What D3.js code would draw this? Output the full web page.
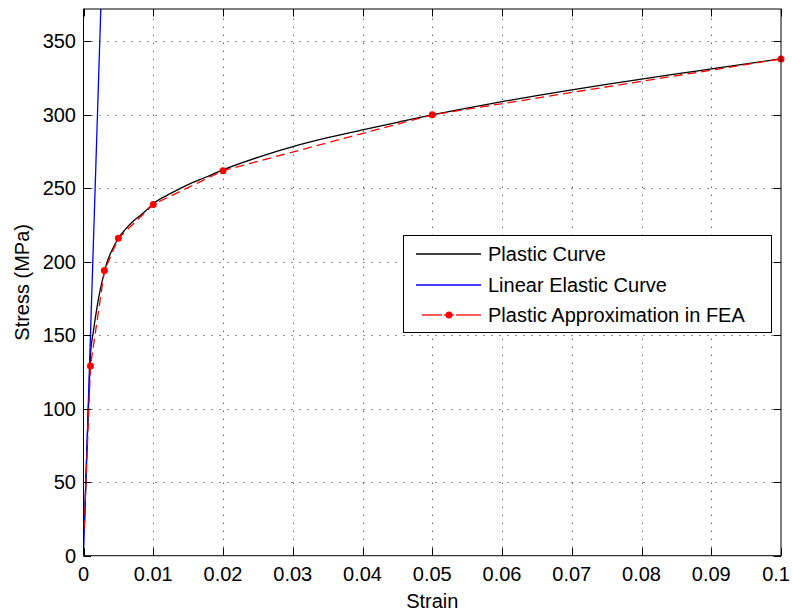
<!DOCTYPE html>
<html><head><meta charset="utf-8">
<script src="https://cdn.jsdelivr.net/npm/d3@7"></script>
<style>body{margin:0;background:#fff}svg{display:block}text{font-family:"Liberation Sans",Arial,sans-serif;font-size:20px;fill:#000}</style>
</head><body>
<script>
// Data
const xTicks = [0,0.01,0.02,0.03,0.04,0.05,0.06,0.07,0.08,0.09,0.1];
const xTickLabels = ["0","0.01","0.02","0.03","0.04","0.05","0.06","0.07","0.08","0.09","0.1"];
const yTicks = [0,50,100,150,200,250,300,350];
const yTickLabels = ["0","50","100","150","200","250","300","350"];

const plasticStrain = [0.0001,0.0003,0.0005,0.0007,0.0009,0.001,0.0014,0.0019,0.0024,0.003,0.0034,0.004,0.005,0.006,0.007,0.008,0.009,0.01,0.0125,0.015,0.0175,0.02,0.025,0.03,0.035,0.04,0.045,0.05,0.055,0.06,0.065,0.07,0.075,0.08,0.085,0.09,0.095,0.1];
const plasticStress = [18,45,73,100,125,137,152,168,181,193,200,207,216,222,227,231,235,239.5,246.5,252.5,257.5,262.5,271,278.3,284.4,289.7,294.9,300,304.6,309,313.1,317,320.7,324.3,327.8,331.2,334.6,338];

const elasticStrain = [0, 0.0026];
const elasticStress = [0, 390];

const feaStrain = [0.0001,0.001,0.003,0.005,0.01,0.02,0.05,0.1];
const feaStress = [18,129,194,216,239,262,300,338];

const legendLabels = ["Plastic Curve","Linear Elastic Curve","Plastic Approximation in FEA"];

const W=792,H=614;
const L=83.5,R=781,T=9,B=555.7;
const x=d3.scaleLinear().domain([0,0.1]).range([L,R]);
const y=d3.scaleLinear().domain([0,372]).range([B,T]);

const svg=d3.select("body").append("svg").attr("width",W).attr("height",H);
svg.append("defs").append("clipPath").attr("id","clip").append("rect")
  .attr("x",L).attr("y",T).attr("width",R-L).attr("height",B-T);

// grid
const g=svg.append("g");
g.selectAll(".vg").data(xTicks.slice(1,-1)).enter().append("line")
  .attr("x1",d=>Math.round(x(d))+0.5).attr("x2",d=>Math.round(x(d))+0.5)
  .attr("y1",B).attr("y2",T).attr("stroke","#222").attr("stroke-dasharray","1,7");
g.selectAll(".hg").data(yTicks.slice(1)).enter().append("line")
  .attr("y1",d=>Math.round(y(d))+0.5).attr("y2",d=>Math.round(y(d))+0.5)
  .attr("x1",L).attr("x2",R).attr("stroke","#222").attr("stroke-dasharray","1,7");

// curves
const pg=svg.append("g").attr("clip-path","url(#clip)");
const line=d3.line().x(d=>x(d[0])).y(d=>y(d[1]));
pg.append("path").datum(plasticStrain.map((s,i)=>[s,plasticStress[i]]))
  .attr("d",line.curve(d3.curveMonotoneX)).attr("fill","none").attr("stroke","#000").attr("stroke-width",1.3);
pg.append("path").datum(elasticStrain.map((s,i)=>[s,elasticStress[i]]))
  .attr("d",d3.line().x(d=>x(d[0])).y(d=>y(d[1]))).attr("fill","none").attr("stroke","#0000ff").attr("stroke-width",1.3);
const fea=feaStrain.map((s,i)=>[s,feaStress[i]]);
pg.append("path").datum(fea)
  .attr("d",d3.line().x(d=>x(d[0])).y(d=>y(d[1]))).attr("fill","none").attr("stroke","#ff0000").attr("stroke-width",1.3).attr("stroke-dasharray","9,5");
svg.selectAll(".mk").data(fea.slice(1)).enter().append("circle")
  .attr("cx",d=>x(d[0])).attr("cy",d=>y(d[1])).attr("r",3.5).attr("fill","#ff0000");

// axes box
svg.append("rect").attr("x",L).attr("y",T).attr("width",R-L).attr("height",B-T)
  .attr("fill","none").attr("stroke","#000").attr("stroke-width",1);
const tk=7.5;
xTicks.forEach(d=>{
  const xx=Math.round(x(d))+0.5;
  svg.append("line").attr("x1",xx).attr("x2",xx).attr("y1",B).attr("y2",B-tk).attr("stroke","#000");
  svg.append("line").attr("x1",xx).attr("x2",xx).attr("y1",T).attr("y2",T+tk).attr("stroke","#000");
});
yTicks.forEach(d=>{
  const yy=Math.round(y(d))+0.5;
  svg.append("line").attr("x1",L).attr("x2",L+tk).attr("y1",yy).attr("y2",yy).attr("stroke","#000");
  svg.append("line").attr("x1",R).attr("x2",R-tk).attr("y1",yy).attr("y2",yy).attr("stroke","#000");
});
const last=xTicks.length-1;
svg.selectAll(".xl").data(xTicks).enter().append("text")
  .attr("x",(d,i)=>i===last?790:x(d)).attr("y",581)
  .attr("text-anchor",(d,i)=>i===last?"end":"middle").text((d,i)=>xTickLabels[i]);
svg.selectAll(".yl").data(yTicks).enter().append("text")
  .attr("x",76).attr("y",d=>y(d)+7).attr("text-anchor","end").text((d,i)=>yTickLabels[i]);
svg.append("text").attr("x",(L+R)/2).attr("y",608).attr("text-anchor","middle").text("Strain");
svg.append("text").attr("transform",`translate(29,${(T+B)/2}) rotate(-90)`).attr("text-anchor","middle").text("Stress (MPa)");

// legend
const lg=svg.append("g");
lg.append("rect").attr("x",403.5).attr("y",235.5).attr("width",368).attr("height",97)
  .attr("fill","#fff").attr("stroke","#000");
const rows=[254,285,315];
lg.append("line").attr("x1",416).attr("x2",481).attr("y1",rows[0]).attr("y2",rows[0]).attr("stroke","#000").attr("stroke-width",1.3);
lg.append("line").attr("x1",416).attr("x2",481).attr("y1",rows[1]).attr("y2",rows[1]).attr("stroke","#0000ff").attr("stroke-width",1.3);
lg.append("line").attr("x1",422).attr("x2",442).attr("y1",rows[2]).attr("y2",rows[2]).attr("stroke","#ff0000").attr("stroke-width",1.3);
lg.append("line").attr("x1",456).attr("x2",481).attr("y1",rows[2]).attr("y2",rows[2]).attr("stroke","#ff0000").attr("stroke-width",1.3);
lg.append("line").attr("x1",444).attr("x2",454).attr("y1",rows[2]).attr("y2",rows[2]).attr("stroke","#ff0000").attr("stroke-width",1.3);
lg.append("circle").attr("cx",449).attr("cy",rows[2]).attr("r",3.5).attr("fill","#ff0000");
legendLabels.forEach((t,i)=>lg.append("text").attr("x",488).attr("y",rows[i]+7).text(t));
</script>
</body></html>
